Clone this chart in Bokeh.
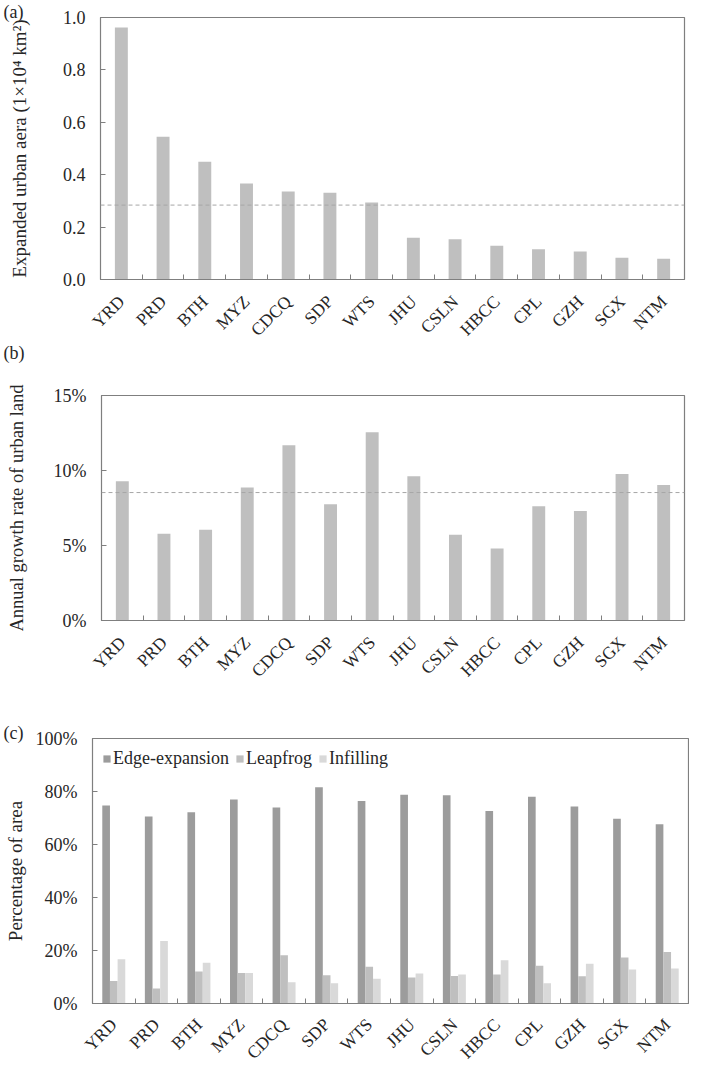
import numpy as np
from bokeh.plotting import figure
from bokeh.models import (Range1d, FixedTicker, PrintfTickFormatter, Span, Legend, LegendItem,
                          ColumnDataSource, Label)
from bokeh.layouts import column
from bokeh.embed import file_html
from bokeh.resources import INLINE
from bokeh.transform import dodge

# ---------------- data ----------------
regions = ["YRD", "PRD", "BTH", "MYZ", "CDCQ", "SDP", "WTS", "JHU", "CSLN", "HBCC", "CPL", "GZH", "SGX", "NTM"]
expanded_area = [0.962, 0.545, 0.449, 0.366, 0.336, 0.331, 0.294, 0.159, 0.154, 0.129, 0.115, 0.107, 0.083, 0.079]
expanded_mean = 0.284
growth_rate = [9.28, 5.78, 6.05, 8.87, 11.68, 7.75, 12.55, 9.62, 5.71, 4.80, 7.62, 7.30, 9.77, 9.04]
growth_mean = 8.53
edge_expansion = [74.7, 70.6, 72.2, 77.0, 74.0, 81.6, 76.4, 78.8, 78.6, 72.6, 78.0, 74.3, 69.7, 67.6]
leapfrog = [8.5, 5.7, 12.1, 11.5, 18.2, 10.7, 13.9, 9.8, 10.4, 10.9, 14.2, 10.3, 17.4, 19.4]
infilling = [16.7, 23.6, 15.4, 11.5, 8.0, 7.6, 9.3, 11.3, 10.9, 16.3, 7.6, 15.0, 12.8, 13.2]

FONT = "Liberation Serif"
TEXT = "#262626"
FRAME = "#7f7f7f"
BAR = "#bfbfbf"
W = 689

n = len(regions)
centers = [i + 0.5 for i in range(n)]
bounds = [float(i) for i in range(1, n)]


def make_fig(height, yr, yticks, fmt, ylabel, panel, top, bottom, left, right,
             ylabel_standoff, ylabel_size="19px"):
    p = figure(width=W, height=height, x_range=Range1d(0, n), y_range=Range1d(*yr),
               output_backend="svg", toolbar_location=None,
               min_border_top=top, min_border_bottom=bottom,
               min_border_left=left, min_border_right=right)
    p.frame_align = False
    p.grid.visible = False
    p.outline_line_color = FRAME
    p.outline_line_width = 1.2
    p.background_fill_color = "white"
    p.border_fill_color = "white"

    if panel:
        p.title.text = panel
        p.title.align = "left"
        p.title.offset = 3 - left
        p.title.standoff = -8
        p.title.text_font = FONT
        p.title.text_font_size = "18px"
        p.title.text_font_style = "normal"
        p.title.text_color = TEXT

    xa = p.xaxis[0]
    xa.ticker = FixedTicker(ticks=[], minor_ticks=bounds)   # boundary ticks only
    xa.major_label_standoff = 0
    xa.major_tick_in = 0
    xa.major_tick_out = 0
    xa.minor_tick_in = 5
    xa.minor_tick_out = 0
    xa.minor_tick_line_color = FRAME
    xa.axis_line_color = FRAME

    ya = p.yaxis[0]
    ya.ticker = FixedTicker(ticks=yticks, minor_ticks=[])
    ya.formatter = PrintfTickFormatter(format=fmt)
    ya.major_tick_in = 5
    ya.major_tick_out = 0
    ya.major_tick_line_color = FRAME
    ya.axis_line_color = FRAME
    ya.major_label_text_font = FONT
    ya.major_label_text_font_size = "18px"
    ya.major_label_text_color = TEXT
    ya.major_label_standoff = 15
    ya.axis_label = ylabel
    ya.axis_label_text_font = FONT
    ya.axis_label_text_font_style = "normal"
    ya.axis_label_text_font_size = ylabel_size
    ya.axis_label_text_color = TEXT
    ya.axis_label_standoff = ylabel_standoff
    return p


def label_strip(height, left, right, drop=8, extra=None):
    """Row of 45-degree category labels, aligned with the x scale of the plot above."""
    u = (W - left - right) / n
    s = figure(width=W, height=height, x_range=Range1d(-left / u, (W - left) / u),
               y_range=Range1d(0, 1), x_axis_type=None, y_axis_type=None,
               output_backend="svg", toolbar_location=None,
               min_border_left=0, min_border_right=0, min_border_top=0, min_border_bottom=0)
    s.frame_align = False
    s.outline_line_color = None
    s.background_fill_color = "white"
    s.border_fill_color = "white"
    for c, r in zip(centers, regions):
        s.add_layout(Label(x=c, y=height - drop, x_units="data", y_units="screen", text=r,
                           angle=float(np.pi / 4), text_align="right", text_baseline="middle",
                           text_font=FONT, text_font_size="17.5px", text_color=TEXT))
    if extra:
        s.add_layout(Label(x=3, y=height - extra[1], x_units="screen", y_units="screen",
                           text=extra[0], text_font=FONT, text_font_size="18px",
                           text_color=TEXT, text_baseline="middle", text_align="left"))
    return s


# ---------------- panel (a) ----------------
pa = make_fig(290, (0, 1.0), [0, 0.2, 0.4, 0.6, 0.8, 1.0], "%.1f",
              "Expanded urban aera (1×10⁴ km²)", "(a)", 17, 11, 100, 5, 30)
pa.vbar(x=centers, top=expanded_area, width=0.31, color=BAR, line_color=None)
pa.add_layout(Span(location=expanded_mean, dimension="width", line_color="#a6a6a6",
                   line_dash="4 3", line_width=1))
sa = label_strip(82, 100, 5, extra=("(b)", 62))

# ---------------- panel (b) ----------------
pb = make_fig(259, (0, 15), [0, 5, 10, 15], "%d%%",
              "Annual growth rate of urban land", None, 23, 11, 101, 5, 24, "18.5px")
pb.vbar(x=centers, top=growth_rate, width=0.31, color=BAR, line_color=None)
pb.add_layout(Span(location=growth_mean, dimension="width", line_color="#a6a6a6",
                   line_dash="4 3", line_width=1))
sb = label_strip(78, 101, 5)

# ---------------- panel (c) ----------------
pc = make_fig(304, (0, 100), [0, 20, 40, 60, 80, 100], "%d%%",
              "Percentage of area", "(c)", 29, 10, 92, 1, 7)
src = ColumnDataSource(dict(x=centers, edge=edge_expansion, leap=leapfrog, infill=infilling))
bw = 0.18
r1 = pc.vbar(x=dodge("x", -bw, range=pc.x_range), top="edge", width=bw, source=src,
             color="#9c9c9c", line_color=None)
r2 = pc.vbar(x=dodge("x", 0, range=pc.x_range), top="leap", width=bw, source=src,
             color=BAR, line_color=None)
r3 = pc.vbar(x=dodge("x", bw, range=pc.x_range), top="infill", width=bw, source=src,
             color="#d9d9d9", line_color=None)
legend = Legend(items=[LegendItem(label="Edge-expansion", renderers=[r1]),
                       LegendItem(label="Leapfrog", renderers=[r2]),
                       LegendItem(label="Infilling", renderers=[r3])],
                orientation="horizontal", location="top_left",
                border_line_color=None, background_fill_alpha=0,
                glyph_width=9, glyph_height=9,
                label_standoff=2, spacing=6, padding=4, margin=10)
legend.label_text_font = FONT
legend.label_text_font_size = "18px"
legend.label_text_color = TEXT
pc.add_layout(legend)
sc = label_strip(52, 92, 1, drop=8)

layout = column(pa, sa, pb, sb, pc, sc, spacing=0)
open("out.html", "w").write(file_html(layout, INLINE))
